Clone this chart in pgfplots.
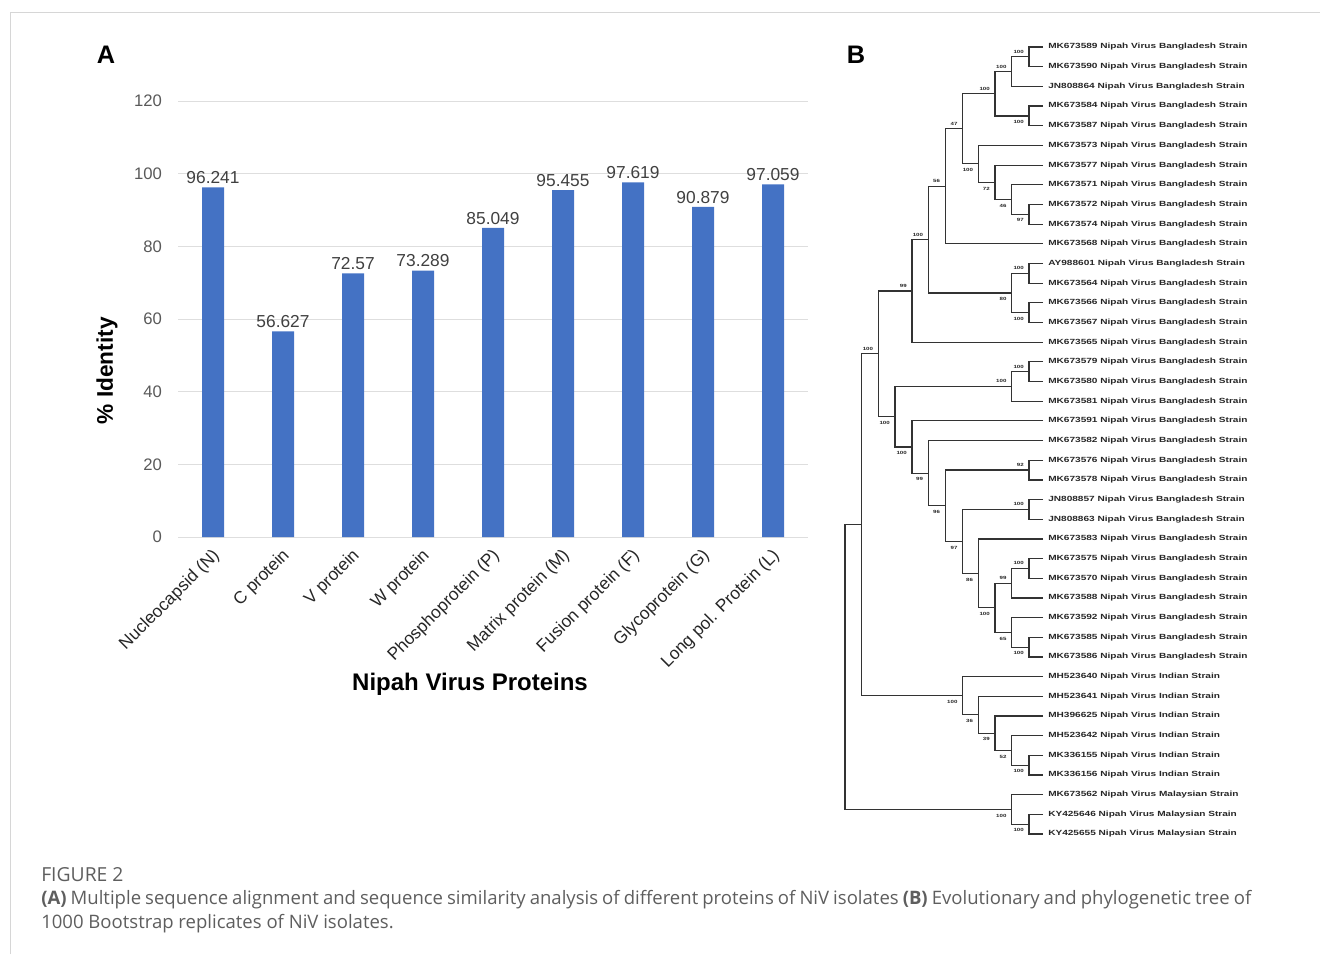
\documentclass[border=0pt]{standalone}
\usepackage{fontspec}
\setmainfont{Liberation Sans}
\newfontfamily\capfont{Open Sans}
\newfontfamily\treefont[FakeStretch=1.35]{Liberation Sans}
\usepackage{pgfplots}
\pgfplotsset{compat=1.18}
\definecolor{barblue}{HTML}{4472C4}
\definecolor{tickgrey}{HTML}{595959}
\definecolor{valgrey}{HTML}{404040}
\definecolor{capgrey}{HTML}{5E5E5E}
\definecolor{framegrey}{HTML}{D6D6D6}
\tikzset{
  treeb/.style={black!80, line width=0.9pt, no markers},
  leaf/.style={anchor=west, inner sep=0pt, font=\treefont\bfseries\fontsize{5.6}{6}\selectfont, black!85},
  ab/.style={anchor=south east, inner sep=0pt, xshift=-3.75pt, yshift=2.4pt, font=\treefont\bfseries\fontsize{3.4}{4}\selectfont, black!85},
  be/.style={anchor=north east, inner sep=0pt, xshift=-3.75pt, yshift=-3.2pt, font=\treefont\bfseries\fontsize{3.4}{4}\selectfont, black!85},
}
\begin{document}
\begin{tikzpicture}
\useasboundingbox (0,0) rectangle (990pt,715.5pt);
% ---------------- full canvas (pixel units): tree, panel letters, caption
\begin{axis}[at={(0,0)}, anchor=south west, width=990pt, height=715.5pt, scale only axis,
  xmin=0, xmax=1320, ymin=0, ymax=954, y dir=reverse, hide axis, clip=false]
\draw[framegrey, line width=0.75pt] (axis cs:10,954) -- (axis cs:10,12) -- (axis cs:1320,12);
\node[font=\bfseries\fontsize{19}{22}\selectfont] at (axis cs:106,55) {A};
\node[font=\bfseries\fontsize{19}{22}\selectfont] at (axis cs:856,55) {B};
% branches
\addplot[treeb] coordinates {(1043,47.0) (1029,47.0) (1029,66.7) (1043,66.7)};
\addplot[treeb] coordinates {(1029,56.8) (1011.7,56.8) (1011.7,86.4) (1043,86.4)};
\addplot[treeb] coordinates {(1043,106.0) (1029,106.0) (1029,125.7) (1043,125.7)};
\addplot[treeb] coordinates {(1011.7,71.6) (995,71.6) (995,115.9) (1029,115.9)};
\addplot[treeb] coordinates {(1043,204.4) (1029,204.4) (1029,224.1) (1043,224.1)};
\addplot[treeb] coordinates {(1043,184.7) (1011.7,184.7) (1011.7,214.2) (1029,214.2)};
\addplot[treeb] coordinates {(1043,165.1) (995,165.1) (995,199.5) (1011.7,199.5)};
\addplot[treeb] coordinates {(1043,145.4) (978.3,145.4) (978.3,182.3) (995,182.3)};
\addplot[treeb] coordinates {(995,93.7) (962.7,93.7) (962.7,163.8) (978.3,163.8)};
\addplot[treeb] coordinates {(962.7,128.8) (945.3,128.8) (945.3,243.8) (1043,243.8)};
\addplot[treeb] coordinates {(1043,263.4) (1029,263.4) (1029,283.1) (1043,283.1)};
\addplot[treeb] coordinates {(1043,302.8) (1029,302.8) (1029,322.5) (1043,322.5)};
\addplot[treeb] coordinates {(1029,273.3) (1011.7,273.3) (1011.7,312.6) (1029,312.6)};
\addplot[treeb] coordinates {(945.3,186.3) (928.3,186.3) (928.3,292.9) (1011.7,292.9)};
\addplot[treeb] coordinates {(928.3,239.6) (912,239.6) (912,342.1) (1043,342.1)};
\addplot[treeb] coordinates {(1043,361.8) (1029,361.8) (1029,381.5) (1043,381.5)};
\addplot[treeb] coordinates {(1029,371.6) (1011.7,371.6) (1011.7,401.2) (1043,401.2)};
\addplot[treeb] coordinates {(1043,460.2) (1029,460.2) (1029,479.9) (1043,479.9)};
\addplot[treeb] coordinates {(1043,499.5) (1029,499.5) (1029,519.2) (1043,519.2)};
\addplot[treeb] coordinates {(1043,558.6) (1029,558.6) (1029,578.2) (1043,578.2)};
\addplot[treeb] coordinates {(1029,568.4) (1011.7,568.4) (1011.7,597.9) (1043,597.9)};
\addplot[treeb] coordinates {(1043,637.3) (1029,637.3) (1029,656.9) (1043,656.9)};
\addplot[treeb] coordinates {(1043,617.6) (1011.7,617.6) (1011.7,647.1) (1029,647.1)};
\addplot[treeb] coordinates {(1011.7,583.1) (995,583.1) (995,632.3) (1011.7,632.3)};
\addplot[treeb] coordinates {(1043,538.9) (978.3,538.9) (978.3,607.7) (995,607.7)};
\addplot[treeb] coordinates {(1029,509.4) (962.7,509.4) (962.7,573.3) (978.3,573.3)};
\addplot[treeb] coordinates {(1029,470.0) (945.3,470.0) (945.3,541.3) (962.7,541.3)};
\addplot[treeb] coordinates {(1043,440.5) (928.3,440.5) (928.3,505.7) (945.3,505.7)};
\addplot[treeb] coordinates {(1043,420.8) (912,420.8) (912,473.1) (928.3,473.1)};
\addplot[treeb] coordinates {(1011.7,386.4) (895,386.4) (895,447.0) (912,447.0)};
\addplot[treeb] coordinates {(912,290.9) (878.3,290.9) (878.3,416.7) (895,416.7)};
\addplot[treeb] coordinates {(1043,755.3) (1029,755.3) (1029,775.0) (1043,775.0)};
\addplot[treeb] coordinates {(1043,735.6) (1011.7,735.6) (1011.7,765.1) (1029,765.1)};
\addplot[treeb] coordinates {(1043,716.0) (995,716.0) (995,750.4) (1011.7,750.4)};
\addplot[treeb] coordinates {(1043,696.3) (978.3,696.3) (978.3,733.2) (995,733.2)};
\addplot[treeb] coordinates {(1043,676.6) (962.7,676.6) (962.7,714.7) (978.3,714.7)};
\addplot[treeb] coordinates {(878.3,353.8) (861.7,353.8) (861.7,695.7) (962.7,695.7)};
\addplot[treeb] coordinates {(1043,814.3) (1029,814.3) (1029,834.0) (1043,834.0)};
\addplot[treeb] coordinates {(1043,794.7) (1011.7,794.7) (1011.7,824.2) (1029,824.2)};
\addplot[treeb] coordinates {(861.7,524.7) (845,524.7) (845,809.4) (1011.7,809.4)};
% leaf names
\node[leaf] at (axis cs:1048,47.0) {MK673589 Nipah Virus Bangladesh Strain};
\node[leaf] at (axis cs:1048,66.7) {MK673590 Nipah Virus Bangladesh Strain};
\node[leaf] at (axis cs:1048,86.4) {JN808864 Nipah Virus Bangladesh Strain};
\node[leaf] at (axis cs:1048,106.0) {MK673584 Nipah Virus Bangladesh Strain};
\node[leaf] at (axis cs:1048,125.7) {MK673587 Nipah Virus Bangladesh Strain};
\node[leaf] at (axis cs:1048,145.4) {MK673573 Nipah Virus Bangladesh Strain};
\node[leaf] at (axis cs:1048,165.1) {MK673577 Nipah Virus Bangladesh Strain};
\node[leaf] at (axis cs:1048,184.7) {MK673571 Nipah Virus Bangladesh Strain};
\node[leaf] at (axis cs:1048,204.4) {MK673572 Nipah Virus Bangladesh Strain};
\node[leaf] at (axis cs:1048,224.1) {MK673574 Nipah Virus Bangladesh Strain};
\node[leaf] at (axis cs:1048,243.8) {MK673568 Nipah Virus Bangladesh Strain};
\node[leaf] at (axis cs:1048,263.4) {AY988601 Nipah Virus Bangladesh Strain};
\node[leaf] at (axis cs:1048,283.1) {MK673564 Nipah Virus Bangladesh Strain};
\node[leaf] at (axis cs:1048,302.8) {MK673566 Nipah Virus Bangladesh Strain};
\node[leaf] at (axis cs:1048,322.5) {MK673567 Nipah Virus Bangladesh Strain};
\node[leaf] at (axis cs:1048,342.1) {MK673565 Nipah Virus Bangladesh Strain};
\node[leaf] at (axis cs:1048,361.8) {MK673579 Nipah Virus Bangladesh Strain};
\node[leaf] at (axis cs:1048,381.5) {MK673580 Nipah Virus Bangladesh Strain};
\node[leaf] at (axis cs:1048,401.2) {MK673581 Nipah Virus Bangladesh Strain};
\node[leaf] at (axis cs:1048,420.8) {MK673591 Nipah Virus Bangladesh Strain};
\node[leaf] at (axis cs:1048,440.5) {MK673582 Nipah Virus Bangladesh Strain};
\node[leaf] at (axis cs:1048,460.2) {MK673576 Nipah Virus Bangladesh Strain};
\node[leaf] at (axis cs:1048,479.9) {MK673578 Nipah Virus Bangladesh Strain};
\node[leaf] at (axis cs:1048,499.5) {JN808857 Nipah Virus Bangladesh Strain};
\node[leaf] at (axis cs:1048,519.2) {JN808863 Nipah Virus Bangladesh Strain};
\node[leaf] at (axis cs:1048,538.9) {MK673583 Nipah Virus Bangladesh Strain};
\node[leaf] at (axis cs:1048,558.6) {MK673575 Nipah Virus Bangladesh Strain};
\node[leaf] at (axis cs:1048,578.2) {MK673570 Nipah Virus Bangladesh Strain};
\node[leaf] at (axis cs:1048,597.9) {MK673588 Nipah Virus Bangladesh Strain};
\node[leaf] at (axis cs:1048,617.6) {MK673592 Nipah Virus Bangladesh Strain};
\node[leaf] at (axis cs:1048,637.3) {MK673585 Nipah Virus Bangladesh Strain};
\node[leaf] at (axis cs:1048,656.9) {MK673586 Nipah Virus Bangladesh Strain};
\node[leaf] at (axis cs:1048,676.6) {MH523640 Nipah Virus Indian Strain};
\node[leaf] at (axis cs:1048,696.3) {MH523641 Nipah Virus Indian Strain};
\node[leaf] at (axis cs:1048,716.0) {MH396625 Nipah Virus Indian Strain};
\node[leaf] at (axis cs:1048,735.6) {MH523642 Nipah Virus Indian Strain};
\node[leaf] at (axis cs:1048,755.3) {MK336155 Nipah Virus Indian Strain};
\node[leaf] at (axis cs:1048,775.0) {MK336156 Nipah Virus Indian Strain};
\node[leaf] at (axis cs:1048,794.7) {MK673562 Nipah Virus Malaysian Strain};
\node[leaf] at (axis cs:1048,814.3) {KY425646 Nipah Virus Malaysian Strain};
\node[leaf] at (axis cs:1048,834.0) {KY425655 Nipah Virus Malaysian Strain};
% bootstrap values
\node[ab] at (axis cs:1029,56.8) {100};
\node[ab] at (axis cs:1011.7,71.6) {100};
\node[be] at (axis cs:1029,115.9) {100};
\node[ab] at (axis cs:995,93.7) {100};
\node[ab] at (axis cs:962.7,128.8) {47};
\node[be] at (axis cs:978.3,163.8) {100};
\node[be] at (axis cs:995,182.3) {72};
\node[be] at (axis cs:1011.7,199.5) {46};
\node[be] at (axis cs:1029,214.2) {97};
\node[ab] at (axis cs:945.3,186.3) {56};
\node[ab] at (axis cs:928.3,239.6) {100};
\node[ab] at (axis cs:1029,273.3) {100};
\node[be] at (axis cs:1011.7,292.9) {80};
\node[be] at (axis cs:1029,312.6) {100};
\node[ab] at (axis cs:912,290.9) {99};
\node[ab] at (axis cs:878.3,353.8) {100};
\node[ab] at (axis cs:1029,371.6) {100};
\node[ab] at (axis cs:1011.7,386.4) {100};
\node[be] at (axis cs:895,416.7) {100};
\node[be] at (axis cs:912,447.0) {100};
\node[be] at (axis cs:928.3,473.1) {99};
\node[ab] at (axis cs:1029,470.0) {92};
\node[be] at (axis cs:945.3,505.7) {96};
\node[ab] at (axis cs:1029,509.4) {100};
\node[be] at (axis cs:962.7,541.3) {97};
\node[be] at (axis cs:978.3,573.3) {86};
\node[ab] at (axis cs:1029,568.4) {100};
\node[ab] at (axis cs:1011.7,583.1) {99};
\node[be] at (axis cs:995,607.7) {100};
\node[be] at (axis cs:1011.7,632.3) {65};
\node[be] at (axis cs:1029,647.1) {100};
\node[be] at (axis cs:962.7,695.7) {100};
\node[be] at (axis cs:978.3,714.7) {36};
\node[be] at (axis cs:995,733.2) {39};
\node[be] at (axis cs:1011.7,750.4) {52};
\node[be] at (axis cs:1029,765.1) {100};
\node[be] at (axis cs:1011.7,809.4) {100};
\node[be] at (axis cs:1029,824.2) {100};
% caption
\node[anchor=base west, inner sep=0pt, capgrey, font=\capfont\fontsize{14.5}{17}\selectfont] at (axis cs:41,881) {FIGURE 2};
\node[anchor=base west, inner sep=0pt, capgrey, font=\capfont\fontsize{13.9}{16}\selectfont] at (axis cs:41,904)
  {\makebox[907.5pt][s]{\textbf{(A)} Multiple sequence alignment and sequence similarity analysis of different proteins of NiV isolates \textbf{(B)} Evolutionary and phylogenetic tree of}};
\node[anchor=base west, inner sep=0pt, capgrey, font=\capfont\fontsize{13.9}{16}\selectfont] at (axis cs:41,928)
  {1000 Bootstrap replicates of NiV isolates.};
\end{axis}
% ---------------- panel A: bar chart
\begin{axis}[at={(133.5pt,312.75pt)}, anchor=south west,
  width=472.5pt, height=327pt, scale only axis,
  xmin=-0.5, xmax=8.5, ymin=0, ymax=120,
  ytick={0,20,40,60,80,100,120},
  xtick={0,1,2,3,4,5,6,7,8},
  xticklabels={Nucleocapsid (N),C protein,V protein,W protein,Phosphoprotein (P),Matrix protein (M),Fusion protein (F),Glycoprotein (G),Long pol. Protein (L)},
  ymajorgrids, grid style={draw=black!13, line width=0.7pt},
  axis line style={draw=none},
  major tick length=0pt,
  /pgf/number format/assume math mode=true,
  yticklabel style={font=\fontsize{12.5}{15}\selectfont, color=tickgrey, xshift=-8.5pt},
  xticklabel style={font=\fontsize{13}{15}\selectfont, color=black!85, xshift=3pt, yshift=-12pt, rotate=45, anchor=east, inner sep=0pt},
  ylabel={\% Identity},
  ylabel style={font=\bfseries\fontsize{17}{20}\selectfont, at={(axis description cs:-0.1127,0.381)}, anchor=center, rotate=0},
  xlabel={Nipah Virus Proteins},
  xlabel style={font=\bfseries\fontsize{18}{21}\selectfont, at={(axis description cs:0.4635,-0.337)}, anchor=center},
  nodes near coords, point meta=explicit symbolic,
  nodes near coords style={font=\fontsize{13}{15}\selectfont, color=valgrey, anchor=south, inner sep=2.5pt},
]
\addplot[ybar, bar width=16.5pt, fill=barblue, draw=none] coordinates {
  (0,96.241)[96.241] (1,56.627)[56.627] (2,72.57)[72.57] (3,73.289)[73.289] (4,85.049)[85.049]
  (5,95.455)[95.455] (6,97.619)[97.619] (7,90.879)[90.879] (8,97.059)[97.059]};
\end{axis}
\end{tikzpicture}
\end{document}
